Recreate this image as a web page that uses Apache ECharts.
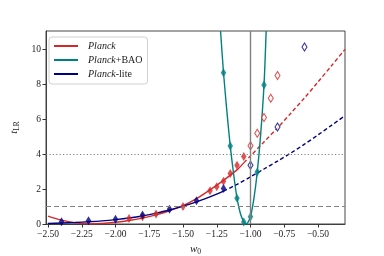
<!DOCTYPE html>
<html><head><meta charset="utf-8">
<script src="https://cdn.jsdelivr.net/npm/echarts@6/dist/echarts.min.js"></script>
<style>html,body{margin:0;padding:0;background:#fff}#c{width:384px;height:256px}</style>
</head><body><div id="c"></div>
<script>
// ---- data ----
const xTicks = [-2.5, -2.25, -2.0, -1.75, -1.5, -1.25, -1.0, -0.75, -0.5];
const yTicks = [0, 2, 4, 6, 8, 10];

const planckFitW  = [-2.5, -2.4, -2.3, -2.2, -2.1, -2.0, -1.9, -1.8, -1.7, -1.6, -1.5, -1.4, -1.3, -1.2, -1.1, -1.05];
const planckFitT  = [0.45, 0.22, 0.07, 0.01, 0.03, 0.10, 0.20, 0.34, 0.52, 0.76, 1.05, 1.45, 1.95, 2.50, 3.10, 3.50];
const planckExtW  = [-1.05, -1.0, -0.9, -0.8, -0.7, -0.6, -0.5, -0.4, -0.3];
const planckExtT  = [3.50, 3.90, 4.70, 5.50, 6.35, 7.22, 8.13, 9.06, 10.0];
const planckPtW   = [-1.9, -1.8, -1.7, -1.5, -1.3, -1.25, -1.2, -1.15, -1.1, -1.05];
const planckPtT   = [0.32, 0.42, 0.57, 1.00, 1.90, 2.13, 2.45, 2.89, 3.36, 3.87];
const planckOpenW = [-1.0, -0.95, -0.9, -0.85, -0.8];
const planckOpenT = [4.48, 5.20, 6.10, 7.20, 8.50];

const baoCurveW = [-1.222, -1.2, -1.175, -1.15, -1.125, -1.1, -1.075, -1.05, -1.035, -1.02, -1.0, -0.975, -0.95, -0.925, -0.9, -0.884];
const baoCurveT = [11.05, 8.66, 6.45, 4.46, 2.85, 1.48, 0.60, 0.12, 0.0, 0.08, 0.42, 1.45, 2.98, 5.10, 7.96, 11.05];
const baoPtW    = [-1.2, -1.15, -1.1, -1.05, -1.0, -0.95, -0.9];
const baoPtT    = [8.66, 4.46, 1.48, 0.12, 0.42, 2.98, 7.96];

const liteFitW  = [-2.5, -2.4, -2.3, -2.2, -2.1, -2.0, -1.9, -1.8, -1.7, -1.6, -1.5, -1.4, -1.3, -1.2];
const liteFitT  = [0.03, 0.06, 0.09, 0.13, 0.18, 0.25, 0.34, 0.46, 0.62, 0.80, 1.02, 1.27, 1.55, 1.88];
const liteExtW  = [-1.2, -1.1, -1.0, -0.9, -0.8, -0.7, -0.6, -0.5, -0.4, -0.3];
const liteExtT  = [1.88, 2.27, 2.70, 3.15, 3.60, 4.07, 4.57, 5.10, 5.65, 6.20];
const litePtW   = [-2.4, -2.2, -2.0, -1.8, -1.6, -1.4, -1.2];
const litePtT   = [0.13, 0.19, 0.27, 0.51, 0.84, 1.33, 2.03];
const liteOpenW = [-1.0, -0.8, -0.6];
const liteOpenT = [3.36, 5.55, 10.14];

const refW0 = -1.0;      // vertical reference line
const refDashed = 1.0;   // horizontal dashed
const refDotted = 4.0;   // horizontal dotted

// ---- chart ----
const RED = '#d62728', TEAL = '#008080', NAVY = '#000080', GRAY = '#808080';
const FONT = 'Liberation Serif';
const zip = (a, b) => a.map((v, i) => [v, b[i]]);
const fmt = v => (v < 0 ? '\u2212' : '') + Math.abs(v).toFixed(2);

function line(name, w, t, color, dashed, extra) {
  return Object.assign({
    name, type: 'line', data: zip(w, t), showSymbol: false, symbol: 'none',
    lineStyle: { color, width: 1.4, type: dashed ? [4, 2.5] : 'solid' },
    itemStyle: { color }, animation: false, z: 3, clip: true
  }, extra || {});
}
function pts(name, w, t, color, open) {
  return {
    name, type: 'scatter', data: zip(w, t), symbol: 'diamond', symbolSize: open ? [5, 8] : [5.5, 9],
    itemStyle: open ? { color: '#fff', borderColor: color, borderWidth: 1.1 } : { color },
    animation: false, z: 4, clip: true
  };
}

const chart = echarts.init(document.getElementById('c'), null, { renderer: 'canvas' });
chart.setOption({
  backgroundColor: '#fff',
  animation: false,
  grid: { left: 46, right: 39, top: 31, bottom: 32, containLabel: false, outerBoundsMode: 'none',
          show: true, borderColor: '#333', borderWidth: 0.9, backgroundColor: 'transparent' },
  legend: {
    data: ['Planck', 'Planck+BAO', 'Planck-lite'],
    orient: 'vertical', left: 49, top: 37,
    itemWidth: 24, itemHeight: 2, itemGap: 2,
    icon: 'rect',
    padding: [3, 5, 4, 5],
    backgroundColor: 'rgba(255,255,255,0.85)', borderColor: '#d0d0d0', borderWidth: 1, borderRadius: 3,
    formatter: n => n === 'Planck' ? '{i|Planck}' : n === 'Planck+BAO' ? '{i|Planck}+BAO' : '{i|Planck}-lite',
    textStyle: { fontFamily: FONT, fontSize: 10, lineHeight: 12, color: '#222', padding: [0, 0, 0, 5],
      rich: { i: { fontFamily: FONT, fontStyle: 'italic', fontSize: 10, lineHeight: 12, color: '#222' } } }
  },
  xAxis: {
    type: 'value', min: -2.515, max: -0.3,
    name: '{i|w}{s|0}', nameLocation: 'middle', nameGap: 14,
    nameTextStyle: { rich: { i: { fontFamily: FONT, fontStyle: 'italic', fontSize: 11, color: '#222' },
                             s: { fontFamily: FONT, fontSize: 7.5, color: '#222', padding: [5, 0, 0, 0] } } },
    axisLine: { show: true, lineStyle: { color: '#333', width: 0.9 } },
    axisTick: { show: true, length: 3.5, lineStyle: { color: '#333' }, customValues: xTicks },
    axisLabel: { customValues: xTicks, formatter: fmt, fontFamily: FONT, fontSize: 9.5, color: '#222', margin: 5 },
    splitLine: { show: false }
  },
  yAxis: {
    type: 'value', min: 0, max: 11.05,
    name: '{i|t}{s|LR}', nameLocation: 'middle', nameGap: 24, nameRotate: 90,
    nameTextStyle: { rich: { i: { fontFamily: FONT, fontStyle: 'italic', fontSize: 11, color: '#222' },
                             s: { fontFamily: FONT, fontSize: 7.5, color: '#222', padding: [5, 0, 0, 0] } } },
    axisLine: { show: true, lineStyle: { color: '#333', width: 0.9 } },
    axisTick: { show: true, length: 3.5, lineStyle: { color: '#333' }, customValues: yTicks },
    axisLabel: { customValues: yTicks, fontFamily: FONT, fontSize: 9.5, color: '#222', margin: 5 },
    splitLine: { show: false }
  },
  series: [
    {
      name: 'ref', type: 'line', data: [], silent: true, animation: false, z: 2,
      markLine: {
        silent: true, symbol: 'none', label: { show: false }, animation: false,
        data: [
          { xAxis: refW0, lineStyle: { color: GRAY, type: 'solid', width: 1.4 } },
          { yAxis: refDashed, lineStyle: { color: GRAY, type: [5, 3], width: 1.2 } },
          { yAxis: refDotted, lineStyle: { color: GRAY, type: [1.2, 2.2], width: 1.2 } }
        ]
      }
    },
    line('Planck', planckFitW, planckFitT, RED, false, { smooth: 0.3 }),
    line('Planck ext', planckExtW, planckExtT, RED, true, { smooth: 0.3 }),
    pts('Planck pts', planckPtW, planckPtT, RED, false),
    pts('Planck open', planckOpenW, planckOpenT, RED, true),
    line('Planck+BAO', baoCurveW, baoCurveT, TEAL, false, { smooth: 0.25 }),
    pts('BAO pts', baoPtW, baoPtT, TEAL, false),
    line('Planck-lite', liteFitW, liteFitT, NAVY, false, { smooth: 0.3 }),
    line('lite ext', liteExtW, liteExtT, NAVY, true, { smooth: 0.3 }),
    pts('lite pts', litePtW, litePtT, NAVY, false),
    pts('lite open', liteOpenW, liteOpenT, NAVY, true)
  ]
});
</script>
</body></html>
